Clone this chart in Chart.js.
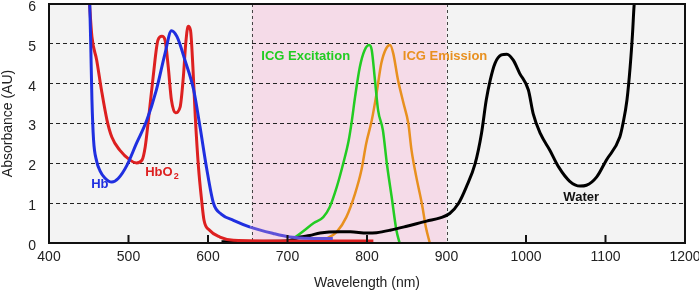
<!DOCTYPE html>
<html>
<head>
    <title>Absorbance spectra</title>
    <script src="https://cdn.jsdelivr.net/npm/chart.js"></script>
    <style>
        html, body { margin: 0; padding: 0; background: #fff; }
        #wrap { width: 699px; height: 293px; }
    </style>
</head>
<body>
    <div id="wrap"><canvas id="spectra"></canvas></div>

    <script>
        // wavelength (nm) / absorbance (AU)
        const hbNm = [451, 452.5, 454, 456, 460, 464, 470, 479, 487, 498, 510, 523, 535, 546, 554, 561, 571, 582, 590, 598, 607, 617, 632, 653, 682, 703, 724, 757];
        const hbAbs = [6.2, 5.0, 3.6, 2.6, 2.05, 1.82, 1.64, 1.53, 1.62, 1.95, 2.5, 3.08, 3.84, 4.76, 5.33, 5.18, 4.59, 3.84, 2.91, 1.91, 0.99, 0.72, 0.57, 0.4, 0.24, 0.15, 0.12, 0.11];

        const hbo2Nm = [450, 454, 460, 466, 473, 479, 489, 502, 510, 517, 521, 525, 531, 537, 542, 546, 550, 554, 559, 565, 569, 572, 575, 578, 581, 584, 588, 592, 595, 602, 615, 632, 700, 808];
        const hbo2Abs = [6.3, 5.18, 4.59, 3.84, 3.08, 2.66, 2.33, 2.08, 2.01, 2.08, 2.41, 3.08, 4.17, 5.09, 5.19, 5.09, 4.42, 3.59, 3.27, 3.42, 4.17, 5.01, 5.44, 5.34, 4.42, 3.17, 1.91, 1.07, 0.57, 0.32, 0.15, 0.07, 0.05, 0.05];

        const waterNm = [617, 650, 699, 716, 728, 741, 766, 779, 800, 812, 829, 850, 875, 892, 904, 915, 925, 936, 944, 950, 955, 961, 969, 976, 984, 992, 1003, 1009, 1018, 1030, 1041, 1055, 1068, 1076, 1089, 1101, 1118, 1122, 1127, 1131, 1134, 1136, 1138];
        const waterAbs = [0.03, 0.04, 0.05, 0.15, 0.19, 0.25, 0.28, 0.28, 0.25, 0.26, 0.32, 0.42, 0.55, 0.63, 0.74, 0.99, 1.41, 1.99, 2.75, 3.59, 4.09, 4.51, 4.72, 4.74, 4.59, 4.26, 3.84, 3.25, 2.75, 2.33, 1.91, 1.55, 1.43, 1.45, 1.66, 2.08, 2.66, 3.0, 3.59, 4.42, 5.26, 5.97, 6.3];

        const excNm = [699, 716, 733, 745, 753, 762, 770, 777, 781, 785, 791, 797, 803, 806, 810, 814, 820, 825, 831, 837, 841];
        const excAbs = [0.0, 0.24, 0.5, 0.65, 0.9, 1.41, 1.99, 2.58, 3.08, 3.67, 4.42, 4.84, 4.97, 4.84, 4.09, 3.33, 2.83, 1.99, 1.16, 0.32, 0.0];

        const emNm = [733, 749, 762, 774, 785, 793, 799, 806, 812, 818, 824, 829, 833, 839, 846, 852, 856, 862, 869, 874, 879];
        const emAbs = [0.03, 0.11, 0.28, 0.65, 1.24, 1.83, 2.5, 3.08, 3.75, 4.51, 4.88, 4.97, 4.76, 4.09, 3.5, 3.0, 2.33, 1.66, 0.99, 0.4, 0.0];

        const xTicks = [400, 500, 600, 700, 800, 900, 1000, 1100, 1200];
        const yTicks = [0, 1, 2, 3, 4, 5, 6];
        const window_nm = [655, 900];   // shaded NIR window

        const FONT = '"Liberation Sans", Arial, Helvetica, sans-serif';

        function pts(xs, ys) {
            return xs.map((x, i) => ({ x: x, y: ys[i] }));
        }

        function line(label, xs, ys, color, width) {
            return {
                label: label,
                data: pts(xs, ys),
                borderColor: color,
                borderWidth: width,
                pointRadius: 0,
                fill: false,
                cubicInterpolationMode: 'monotone'
            };
        }

        const hb = line('Hb', hbNm, hbAbs, '#1f2fe0', 3);
        hb.segment = { borderColor: ctx => ctx.p0.parsed.x >= 650 ? '#5f52d8' : undefined };

        // backgrounds, dashed window edges, frame, tick marks, curve labels
        const decor = {
            id: 'decor',
            beforeDraw(chart) {
                const { ctx, chartArea: a, scales: { x } } = chart;
                const x0 = x.getPixelForValue(window_nm[0]);
                const x1 = x.getPixelForValue(window_nm[1]);
                ctx.save();
                ctx.fillStyle = '#f3f3f3';
                ctx.fillRect(a.left, a.top, a.right - a.left, a.bottom - a.top);
                ctx.fillStyle = '#f5dbe8';
                ctx.fillRect(x0, a.top, x1 - x0, a.bottom - a.top);
                ctx.restore();
            },
            beforeDatasetsDraw(chart) {
                const { ctx, chartArea: a, scales: { x } } = chart;
                ctx.save();
                ctx.strokeStyle = '#444';
                ctx.lineWidth = 1;
                ctx.setLineDash([3, 3]);
                window_nm.forEach(v => {
                    const px = Math.round(x.getPixelForValue(v)) + 0.5;
                    ctx.beginPath();
                    ctx.moveTo(px, a.top);
                    ctx.lineTo(px, a.bottom);
                    ctx.stroke();
                });
                ctx.restore();
            },
            afterDraw(chart) {
                const { ctx, chartArea: a, scales: { x, y } } = chart;
                ctx.save();
                ctx.strokeStyle = '#111';
                ctx.lineWidth = 2;
                ctx.strokeRect(a.left, a.top, a.right - a.left, a.bottom - a.top);
                xTicks.slice(1, -1).forEach(v => {
                    if (window_nm.includes(v)) return;
                    const px = x.getPixelForValue(v);
                    ctx.beginPath();
                    ctx.moveTo(px, a.bottom);
                    ctx.lineTo(px, a.bottom - 8);
                    ctx.stroke();
                });

                ctx.textBaseline = 'middle';
                ctx.textAlign = 'left';
                ctx.font = 'bold 13px ' + FONT;
                ctx.fillStyle = '#1f2fe0';
                ctx.fillText('Hb', x.getPixelForValue(453), y.getPixelForValue(1.48));
                ctx.fillStyle = '#dd2020';
                const hx = x.getPixelForValue(521), hy = y.getPixelForValue(1.78);
                ctx.fillText('HbO', hx, hy);
                const w = ctx.measureText('HbO').width;
                ctx.font = 'bold 9px ' + FONT;
                ctx.fillText('2', hx + w + 1, hy + 4);
                ctx.font = 'bold 13px ' + FONT;
                ctx.fillStyle = '#22cc22';
                ctx.fillText('ICG Excitation', x.getPixelForValue(667), y.getPixelForValue(4.69));
                ctx.fillStyle = '#e8901f';
                ctx.fillText('ICG Emission', x.getPixelForValue(845), y.getPixelForValue(4.69));
                ctx.fillStyle = '#111';
                ctx.fillText('Water', x.getPixelForValue(1047), y.getPixelForValue(1.15));
                ctx.restore();
            }
        };

        new Chart(document.getElementById('spectra').getContext('2d'), {
            type: 'line',
            data: {
                datasets: [
                    hb,
                    line('HbO2', hbo2Nm, hbo2Abs, '#dd2020', 3),
                    line('Water', waterNm, waterAbs, '#000000', 3),
                    line('ICG Excitation', excNm, excAbs, '#22cc22', 2.5),
                    line('ICG Emission', emNm, emAbs, '#e8901f', 2.5)
                ]
            },
            options: {
                responsive: true,
                maintainAspectRatio: false,
                animation: false,
                layout: { padding: { top: 4, right: 14, left: 0, bottom: 0 } },
                plugins: {
                    legend: { display: false },
                    tooltip: { enabled: false }
                },
                scales: {
                    x: {
                        type: 'linear',
                        min: 400,
                        max: 1200,
                        afterBuildTicks: s => { s.ticks = xTicks.map(v => ({ value: v })); },
                        afterFit: s => {
                            s.height = 50;
                            s.paddingLeft = 0;
                            s.paddingRight = 0;
                        },
                        grid: { display: false, drawTicks: false },
                        border: { display: false },
                        ticks: {
                            padding: 6,
                            color: '#222',
                            font: { family: FONT, size: 14 },
                            maxRotation: 0,
                            callback: v => String(v)
                        },
                        title: {
                            display: true,
                            text: 'Wavelength (nm)',
                            color: '#222',
                            font: { family: FONT, size: 14 },
                            padding: { top: 0, bottom: 1 }
                        }
                    },
                    y: {
                        min: 0,
                        max: 6,
                        afterBuildTicks: s => { s.ticks = yTicks.map(v => ({ value: v })); },
                        afterFit: s => {
                            s.width = 49;
                            s.paddingTop = 0;
                            s.paddingBottom = 0;
                        },
                        grid: {
                            drawTicks: false,
                            lineWidth: 1,
                            color: c => (c.tick && c.tick.value > 0 && c.tick.value < 6) ? '#222' : 'rgba(0,0,0,0)'
                        },
                        border: { display: false, dash: [4, 3] },
                        ticks: {
                            padding: 13,
                            labelOffset: 3,
                            color: '#222',
                            font: { family: FONT, size: 14 },
                            callback: v => String(v)
                        },
                        title: {
                            display: true,
                            text: 'Absorbance (AU)',
                            color: '#222',
                            font: { family: FONT, size: 14 },
                            padding: { top: 0, bottom: 0 }
                        }
                    }
                }
            },
            plugins: [decor]
        });
    </script>
</body>
</html>
